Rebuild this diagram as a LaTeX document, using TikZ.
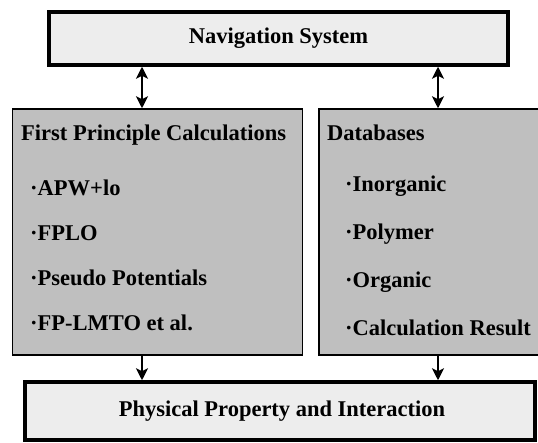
\documentclass[tikz,border=0pt]{standalone}
\usepackage{fontspec}
\setmainfont{Liberation Serif}
\usetikzlibrary{arrows.meta}

\begin{document}
\begin{tikzpicture}[x=1pt, y=-1pt,
    font=\bfseries\fontsize{22.5}{27}\selectfont,
    lightbox/.style={draw, rectangle, fill=gray!14, line width=3.5pt, inner sep=0pt},
    darkbox/.style={draw, rectangle, fill=gray!50, line width=1.5pt, inner sep=0pt},
    item/.style={anchor=base west, inner sep=0pt},
    link/.style={line width=2pt, {Stealth[length=12pt,width=12pt,inset=3pt]}-{Stealth[length=12pt,width=12pt,inset=3pt]}},
    feed/.style={line width=2pt, -{Stealth[length=12pt,width=12pt,inset=3pt]}}]
    \def\leftX{142}
    \def\rightX{438}

    % Frame
    \useasboundingbox (0,0) rectangle (538,443);

    % Draw boxes
    \node[lightbox, minimum width=459pt, minimum height=53pt] (nav) at (278.5,38.5) {Navigation System};
    \node[darkbox, minimum width=290pt, minimum height=246pt] (calc) at (157.5,232) {};
    \node[darkbox, minimum width=226pt, minimum height=246pt] (db) at (432,232) {};
    \node[lightbox, minimum width=510pt, minimum height=58pt] (phys) at (280,411) {};

    % Left box texts
    \node[item] (calcTitle) at (21,141) {First Principle Calculations};
    \node[item] (apw) at (30,196) {·APW+lo};
    \node[item] (fplo) at (30,241) {·FPLO};
    \node[item] (pseudo) at (30,286) {·Pseudo Potentials};
    \node[item] (lmto) at (30,331) {·FP-LMTO et al.};

    % Right box texts
    \node[item] (dbTitle) at (327,141) {Databases};
    \node[item] (inorg) at (345,192) {·Inorganic};
    \node[item] (poly) at (345,240) {·Polymer};
    \node[item] (org) at (345,288) {·Organic};
    \node[item] (calcres) at (345,336) {·Calculation Result};

    % Bottom box text
    \node[anchor=base, inner sep=0pt] (physText) at (282,417) {Physical Property and Interaction};

    % Draw arrows
    \coordinate (leftLine) at (\leftX,0);
    \coordinate (rightLine) at (\rightX,0);
    \draw[link] (leftLine |- nav.south) -- (leftLine |- calc.north);
    \draw[link] (rightLine |- nav.south) -- (rightLine |- db.north);
    \draw[feed] (leftLine |- calc.south) -- (leftLine |- phys.north);
    \draw[feed] (rightLine |- db.south) -- (rightLine |- phys.north);

\end{tikzpicture}
\end{document}
